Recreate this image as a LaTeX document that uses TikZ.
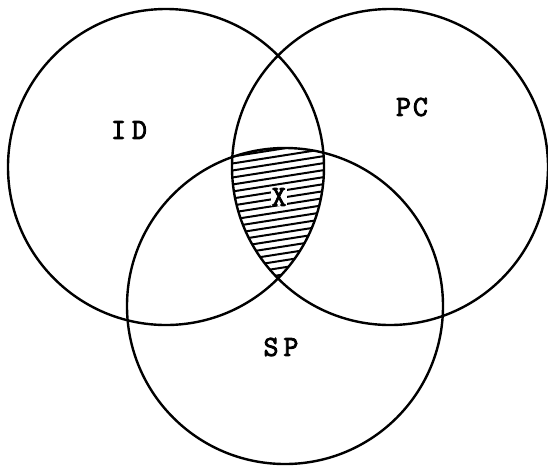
\documentclass[tikz,border=0pt]{standalone}
\usepackage{fontspec}
\newfontfamily\tw{Latin Modern Mono}[FakeBold=3]
\begin{document}
\begin{tikzpicture}[x=1pt,y=-1pt,
  ring/.style={circle,draw,line width=2.4pt,minimum size=316pt,inner sep=0pt},
  lab/.style={font=\tw\fontsize{29}{29}\selectfont,inner sep=1pt},
  hatch/.style={line width=2pt}]
\useasboundingbox (0,0) rectangle (548,467);
\begin{scope}
  \clip (166,167) circle[radius=158pt];
  \clip (390,167) circle[radius=158pt];
  \clip (285,306) circle[radius=158pt];
  \foreach \i in {0,...,32} \draw[hatch] (210,125+7*\i) -- ++(140,-22);
\end{scope}
\node[ring] (ID) at (166,167) {};
\node[ring] (PC) at (390,167) {};
\node[ring] (SP) at (285,306) {};
\node[lab] (idl) at (129,130) {I\hspace{6pt}D};
\node[lab] (pcl) at (412,107) {P\hspace{2pt}C};
\node[lab] (spl) at (281,347) {S\hspace{5pt}P};
\node[lab,fill=white,inner sep=0.5pt] (x) at (279,197) {X};
\end{tikzpicture}
\end{document}
